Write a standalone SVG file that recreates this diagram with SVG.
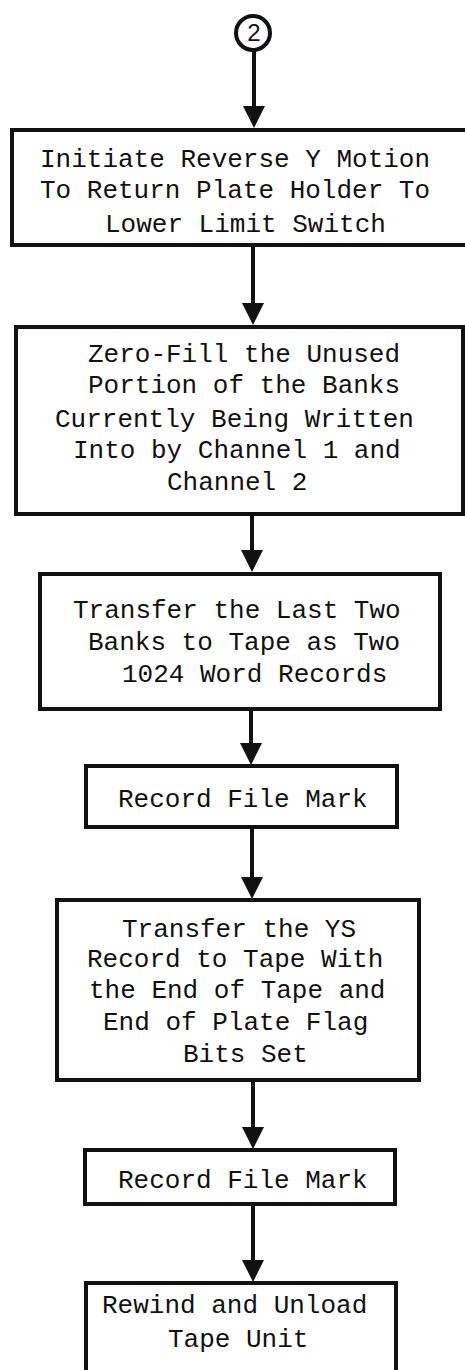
<svg xmlns="http://www.w3.org/2000/svg" width="465" height="1370" viewBox="0 0 465 1370">
<style>
.box{fill:#fff;stroke:#111;stroke-width:4}
.t{font-family:"Courier New","Nimbus Mono PS","FreeMono","Liberation Mono",monospace;font-size:26px;fill:#111}
.c{stroke:#111;stroke-width:4;fill:none}
</style>
<defs>
<marker id="ah" markerUnits="userSpaceOnUse" markerWidth="24" markerHeight="24" viewBox="0 0 24 24" refX="12" refY="12" orient="auto">
<path d="M1,1 L23,12 L1,23 Z" fill="#111"/>
</marker>
</defs>
<rect width="465" height="1370" fill="#fff"/>
<g id="connectors">
<line class="c" x1="254" y1="50" x2="254" y2="117" marker-end="url(#ah)"/>
<line class="c" x1="253" y1="247" x2="253" y2="314" marker-end="url(#ah)"/>
<line class="c" x1="252" y1="516" x2="252" y2="561" marker-end="url(#ah)"/>
<line class="c" x1="251" y1="711" x2="251" y2="754" marker-end="url(#ah)"/>
<line class="c" x1="252" y1="829" x2="252" y2="888" marker-end="url(#ah)"/>
<line class="c" x1="253" y1="1082" x2="253" y2="1138" marker-end="url(#ah)"/>
<line class="c" x1="253" y1="1206" x2="253" y2="1271" marker-end="url(#ah)"/>
</g>
<g id="n0">
<circle cx="253" cy="33" r="17" fill="#fff" stroke="#111" stroke-width="4"/>
<text x="254" y="41" text-anchor="middle" font-family="Liberation Sans, Arial, sans-serif" font-size="24" fill="#111">2</text>
</g>
<g id="n1">
<rect class="box" x="12" y="130" width="470" height="115"/>
<text class="t" x="40" y="167">Initiate Reverse Y Motion</text>
<text class="t" x="40" y="198">To Return Plate Holder To</text>
<text class="t" x="105" y="232">Lower Limit Switch</text>
</g>
<g id="n2">
<rect class="box" x="16" y="327" width="447" height="187"/>
<text class="t" x="88" y="362">Zero-Fill the Unused</text>
<text class="t" x="88" y="393">Portion of the Banks</text>
<text class="t" x="55" y="427">Currently Being Written</text>
<text class="t" x="73" y="458">Into by Channel 1 and</text>
<text class="t" x="167" y="490">Channel 2</text>
</g>
<g id="n3">
<rect class="box" x="40" y="574" width="400" height="135"/>
<text class="t" x="73" y="618">Transfer the Last Two</text>
<text class="t" x="88" y="650">Banks to Tape as Two</text>
<text class="t" x="122" y="682">1024 Word Records</text>
</g>
<g id="n4">
<rect class="box" x="86" y="766" width="311" height="61"/>
<text class="t" x="118" y="807">Record File Mark</text>
</g>
<g id="n5">
<rect class="box" x="57" y="900" width="362" height="180"/>
<text class="t" x="122" y="937">Transfer the YS</text>
<text class="t" x="87" y="967">Record to Tape With</text>
<text class="t" x="89" y="998">the End of Tape and</text>
<text class="t" x="103" y="1030">End of Plate Flag</text>
<text class="t" x="183" y="1062">Bits Set</text>
</g>
<g id="n6">
<rect class="box" x="85" y="1150" width="310" height="54"/>
<text class="t" x="118" y="1188">Record File Mark</text>
</g>
<g id="n7">
<rect class="box" x="86" y="1283" width="310" height="110"/>
<text class="t" x="102" y="1313">Rewind and Unload</text>
<text class="t" x="168" y="1347">Tape Unit</text>
</g>
</svg>
